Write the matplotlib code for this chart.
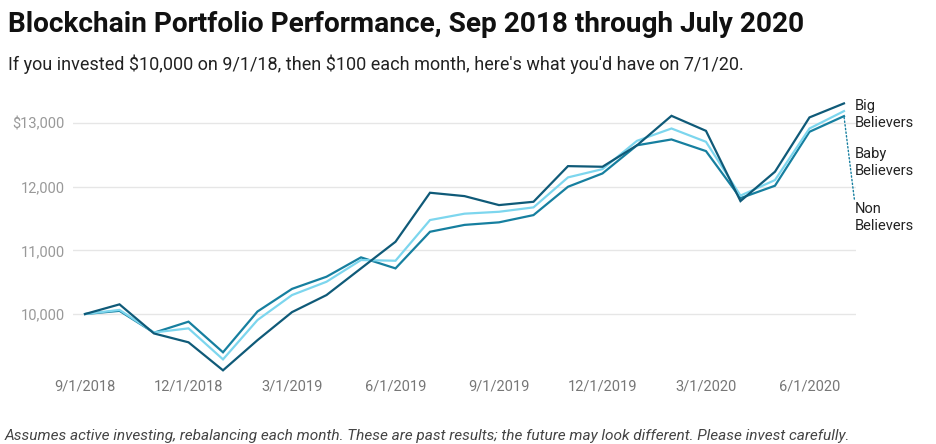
import matplotlib
matplotlib.use("Agg")
import matplotlib.pyplot as plt

plt.rcParams['font.family'] = ['Roboto', 'DejaVu Sans']

# monthly values, 9/1/2018 .. 7/1/2020
big = [10000, 10152, 9695, 9556, 9116, 9590, 10030, 10298, 10717, 11135, 11905, 11852,
       11711, 11763, 12323, 12313, 12650, 13113, 12877, 11774, 12235, 13088, 13308]
baby = [10000, 10065, 9710, 9775, 9288, 9906, 10298, 10507, 10848, 10837, 11476, 11576,
        11606, 11675, 12146, 12276, 12720, 12914, 12705, 11860, 12104, 12914, 13187]
non = [10000, 10050, 9707, 9880, 9399, 10040, 10395, 10586, 10890, 10717, 11292, 11400,
       11440, 11554, 11999, 12208, 12650, 12742, 12559, 11820, 12015, 12862, 13108]

x_labels = ['9/1/2018', '12/1/2018', '3/1/2019', '6/1/2019', '9/1/2019',
            '12/1/2019', '3/1/2020', '6/1/2020']
y_ticks = [10000, 11000, 12000, 13000]
y_labels = ['10,000', '11,000', '12,000', '\\$13,000']

c_big = '#0f5a78'
c_baby = '#7dd6ee'
c_non = '#167f9f'

fig = plt.figure(figsize=(9.36, 4.44), dpi=100)
ax = fig.add_axes([0.078, 0.1493, 0.8365, 0.631])

x = list(range(len(big)))
ax.plot(x, non, color=c_non, lw=1.6, solid_joinstyle='miter')
ax.plot(x, baby, color=c_baby, lw=1.6, solid_joinstyle='miter')
ax.plot(x, big, color=c_big, lw=1.6, solid_joinstyle='miter')

ax.set_xlim(-0.348, 22.348)
ax.set_ylim(9000, 13400)
ax.set_yticks(y_ticks)
ax.set_yticklabels(y_labels)
ax.set_xticks(range(0, 22, 3))
ax.set_xticklabels(x_labels)
ax.tick_params(axis='y', length=0, pad=6, labelsize=10.5, labelcolor='#999999')
ax.tick_params(axis='x', length=0, pad=1, labelsize=10.5, labelcolor='#777777')
ax.grid(axis='y', color='#e6e6e6', lw=1)
ax.set_axisbelow(True)
for s in ax.spines.values():
    s.set_visible(False)

# series labels at the right end
lab = dict(ha='left', va='center', fontsize=10.5, color='#222222', linespacing=1.3,
           textcoords='offset points', annotation_clip=False)
ax.annotate('Big\nBelievers', xy=(22, big[-1]), xytext=(8, -8), **lab)
ax.annotate('Baby\nBelievers', xy=(22, baby[-1]), xytext=(8, -37), **lab)
ax.annotate('Non\nBelievers', xy=(22, non[-1]), xytext=(8, -73), **lab,
            arrowprops=dict(arrowstyle='-', linestyle=':', color=c_non, lw=1,
                            shrinkA=0, shrinkB=0, relpos=(0, 0.9)))

fig.text(0.009, 0.928, 'Blockchain Portfolio Performance, Sep 2018 through July 2020',
         fontsize=20.2, fontweight='bold', color='#111111', va='baseline')
fig.text(0.009, 0.843, "If you invested \\$10,000 on 9/1/18, then \\$100 each month, "
         "here's what you'd have on 7/1/20.", fontsize=13, color='#222222', va='baseline')
fig.text(0.005, 0.01, 'Assumes active investing, rebalancing each month. These are past results; '
         'the future may look different. Please invest carefully.',
         fontsize=11.1, style='italic', color='#444444', va='baseline')

fig.savefig('out.png', dpi=100)
